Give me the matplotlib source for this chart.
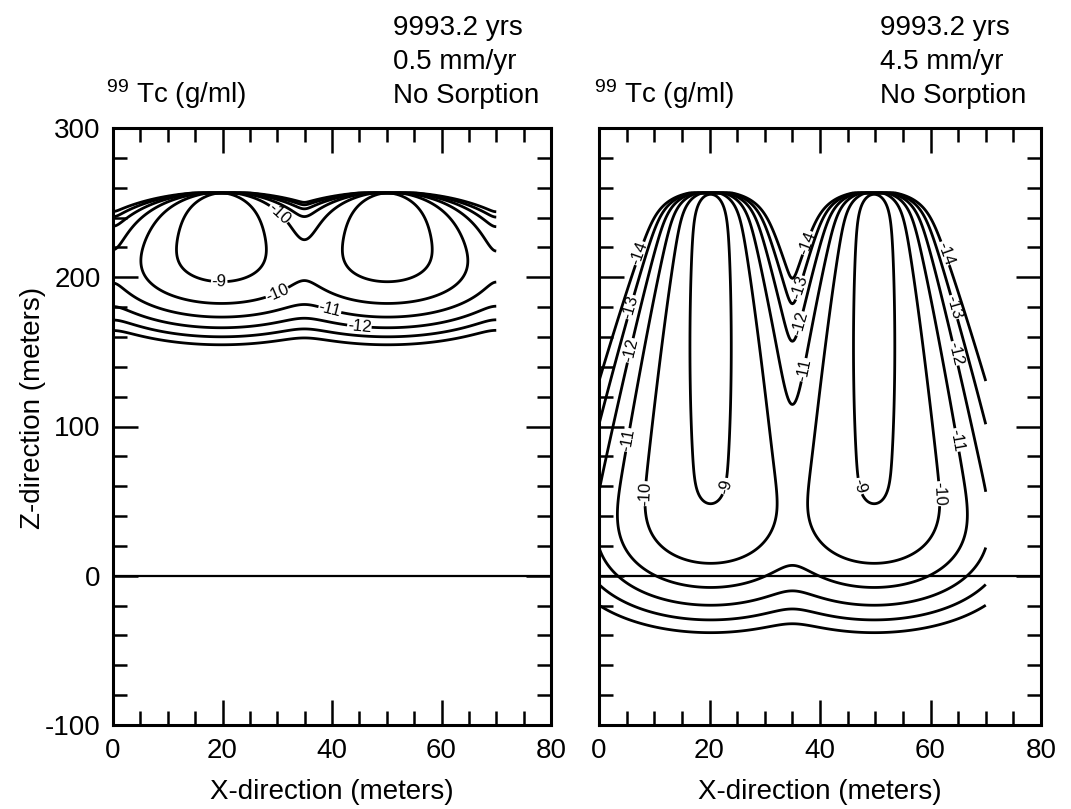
import math
import numpy as np
import matplotlib
matplotlib.use("Agg")
import matplotlib.pyplot as plt
from matplotlib.ticker import MultipleLocator

plt.rcParams['font.family'] = ['Liberation Sans', 'DejaVu Sans']
plt.rcParams['mathtext.fontset'] = 'custom'
plt.rcParams['mathtext.rm'] = 'Liberation Sans'
plt.rcParams['axes.unicode_minus'] = False
plt.rcParams['contour.negative_linestyle'] = 'solid'

# ---------------- data ----------------
levels = [-14, -13, -12, -11, -10, -9]          # log10 concentration (g/ml)
x_ticks = [0, 20, 40, 60, 80]
z_ticks = [-100, 0, 100, 200, 300]
panel_time = ["9993.2 yrs", "9993.2 yrs"]
panel_rate = ["0.5 mm/yr", "4.5 mm/yr"]
panel_sorption = ["No Sorption", "No Sorption"]
species_label = r"$\mathregular{^{99}}$ Tc (g/ml)"

surface_z = 257.0                 # top of the model domain (m)
domain_x = [0.0, 70.0]            # horizontal extent of the model (m)
source_x = [[19.8, 50.1], [20.2, 49.8]]   # plume centre lines per panel (m)
log_mass = [-7.756, -8.21]        # plume strength (log10)
sigma0_sq = [0.6, 0.5]            # transverse variance at the source (m^2)
sigma_jump = [45.0, 2.5]          # early transverse spreading (m^2)
sigma_jump_depth = [35.0, 8.0]    # depth scale of early spreading (m)
sigma_rate = [0.0, 0.08]          # later growth of transverse variance with depth (m)
sigma_curv = [0.0, 0.00025]       # extra growth of variance at large depth
front_depth = [56.0, 228.6]       # depth of the migration front below the source (m)
front_width = [14.6, 22.2]        # longitudinal spreading of the front (m)
surface_skin = [8.0, 8.0]         # zero-concentration skin at the surface (m)
side_reflection = [1.0, 0.0]      # no-flux side boundaries (image weight)

# contour labels: (level, search direction, fixed coordinate, search from, search to)
# 'z' -> along the row at height z, searching in x;  'x' -> along the column at x, searching in z
label_spec = [
    [(-10, 'x', 30.5, 215, 250), (-9, 'x', 19.5, 185, 215), (-10, 'x', 30.1, 185, 215),
     (-11, 'x', 39.6, 165, 195), (-12, 'x', 45.0, 155, 185)],
    [(-14, 'z', 216, 0, 20), (-13, 'z', 180, 0, 20), (-12, 'z', 151, 0, 20),
     (-11, 'z', 91, 0, 20), (-10, 'z', 55, 0, 20), (-9, 'z', 60, 20, 30),
     (-14, 'z', 223, 35, 50), (-13, 'z', 193, 35, 50), (-12, 'z', 169, 35, 50),
     (-11, 'z', 138, 35, 50), (-9, 'z', 60, 40, 50), (-10, 'z', 55, 50, 70),
     (-11, 'z', 91, 50, 70), (-12, 'z', 149, 50, 70), (-13, 'z', 180, 50, 70),
     (-14, 'z', 216, 50, 70)],
]

erfc_v = np.vectorize(math.erfc)


def concentration_field(p, x, z):
    X, Z = np.meshgrid(x, z)
    d = np.clip(surface_z - z, 0.0, None)
    s2 = (sigma0_sq[p] + sigma_jump[p] * (1.0 - np.exp(-d / sigma_jump_depth[p]))
          + sigma_rate[p] * d + sigma_curv[p] * d ** 2)
    front = 0.5 * erfc_v((d - front_depth[p]) / front_width[p])
    skin = 1.0 - np.exp(-d / surface_skin[p])
    S2 = s2[:, None]
    C = np.zeros_like(X)
    for xs in source_x[p]:
        C += np.exp(-(X - xs) ** 2 / (2.0 * S2))
        for xi in (-xs, 2 * domain_x[1] - xs):
            C += side_reflection[p] * np.exp(-(X - xi) ** 2 / (2.0 * S2))
    C *= (10.0 ** log_mass[p]) / np.sqrt(S2)
    C *= (front * skin)[:, None]
    return X, Z, np.log10(C + 1e-300)


def first_crossing(coord, values, lo, hi):
    sel = np.where((coord >= lo) & (coord <= hi))[0]
    for a, b in zip(sel[:-1], sel[1:]):
        if values[a] * values[b] < 0:
            return coord[a] + (coord[b] - coord[a]) * values[a] / (values[a] - values[b])
    return None


def label_points(specs, x, z, F):
    pts = []
    for lev, mode, fixed, lo, hi in specs:
        if mode == 'z':
            i = int(np.argmin(np.abs(z - fixed)))
            xc = first_crossing(x, F[i] - lev, lo, hi)
            if xc is not None:
                pts.append((xc, z[i]))
        else:
            j = int(np.argmin(np.abs(x - fixed)))
            zc = first_crossing(z, F[:, j] - lev, lo, hi)
            if zc is not None:
                pts.append((x[j], zc))
    return pts


x = np.linspace(domain_x[0], domain_x[1], 351)
z = np.linspace(-100.0, surface_z, 715)

fig = plt.figure(figsize=(10.71, 8.09), dpi=100)
W, H = 1071.0, 809.0
axes_px = [(113, 128, 438, 597), (599, 128, 442, 597)]
txt_left = [106, 594]
blk_left = [393, 880]
fs = 20

for p, (l, t, w, h) in enumerate(axes_px):
    ax = fig.add_axes([l / W, 1 - (t + h) / H, w / W, h / H])
    X, Z, F = concentration_field(p, x, z)
    cs = ax.contour(X, Z, F, levels=levels, colors='k', linewidths=2.0,
                    linestyles='solid')
    pts = label_points(label_spec[p], x, z, F)
    if pts:
        ax.clabel(cs, manual=pts, fmt='%d', fontsize=12, inline=True,
                  inline_spacing=2)
    ax.axhline(0, color='k', lw=1.6)
    ax.set_xlim(0, 80)
    ax.set_ylim(-100, 300)
    ax.set_xticks(x_ticks)
    ax.set_yticks(z_ticks)
    ax.xaxis.set_minor_locator(MultipleLocator(5))
    ax.yaxis.set_minor_locator(MultipleLocator(20))
    ax.tick_params(which='both', direction='in', top=True, right=True,
                   width=1.8, labelsize=fs, pad=9)
    ax.tick_params(which='major', length=18)
    ax.tick_params(which='minor', length=10)
    if p == 1:
        ax.tick_params(labelleft=False)
    for s in ax.spines.values():
        s.set_linewidth(2.2)
    fig.text((l + w / 2) / W, 1 - 792 / H, "X-direction (meters)", fontsize=fs,
             ha='center', va='center')
    fig.text(txt_left[p] / W, 1 - 103 / H, species_label, fontsize=fs,
             ha='left', va='baseline')
    for txt, yb in zip([panel_time[p], panel_rate[p], panel_sorption[p]], [35, 69, 103]):
        fig.text(blk_left[p] / W, 1 - yb / H, txt, fontsize=fs, ha='left', va='baseline')

fig.text(33 / W, 1 - 408 / H, "Z-direction (meters)", fontsize=fs, rotation=90,
         ha='center', va='center')

fig.savefig("out.png", dpi=100)
